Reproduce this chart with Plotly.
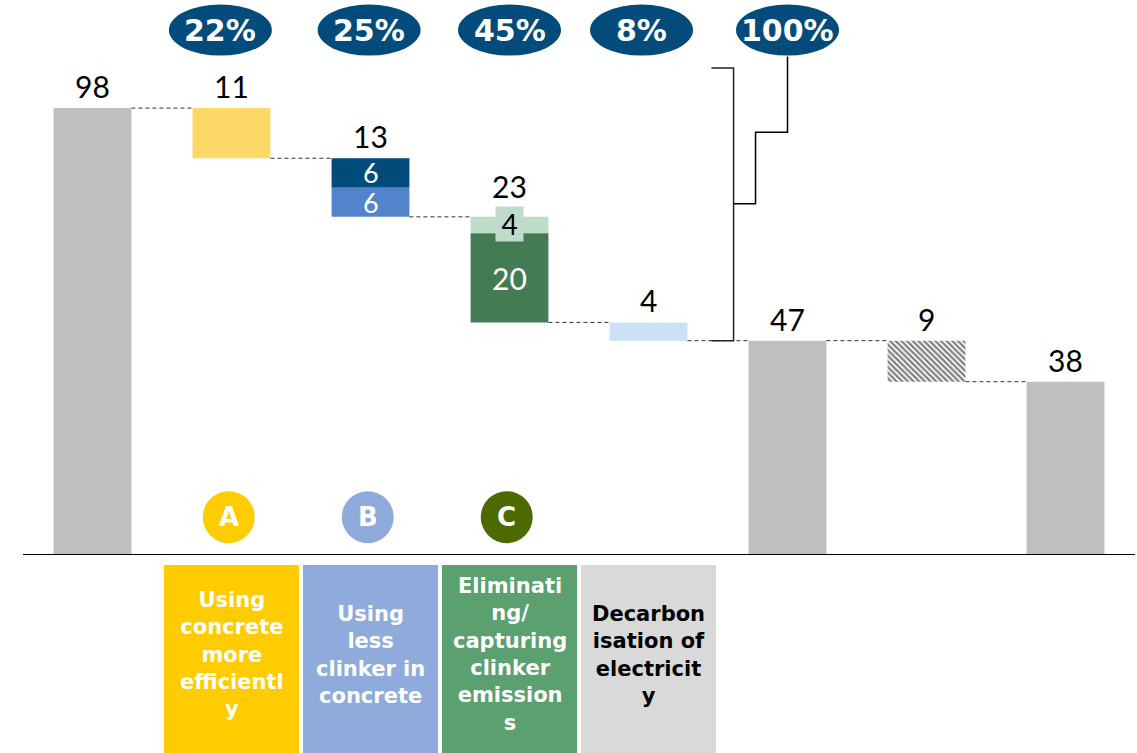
import plotly.graph_objects as go

# ---- data -------------------------------------------------------------
start_total = 98
lever_names = ["A", "B", "C", "D"]
lever_segments = [[11], [6.45, 6.40], [3.6, 19.55], [4]]
further_reduction = 9
lever_titles = [
    "Using<br>concrete<br>more<br>efficientl<br>y",
    "Using<br>less<br>clinker in<br>concrete",
    "Eliminati<br>ng/<br>capturing<br>clinker<br>emission<br>s",
    "Decarbon<br>isation of<br>electricit<br>y",
]
badge_letters = ["A", "B", "C"]

# ---- styles -----------------------------------------------------------
GREY = "#BFBFBF"
NAVY = "#024B7A"
seg_colors = [["#FDD866"], ["#004B7A", "#5383CB"], ["#BEDCC9", "#437C52"], ["#CCE1F5"]]
seg_text_colors = [[None], ["white", "white"], ["black", "white"], [None]]
box_colors = ["#FFCC00", "#8EABDC", "#5BA06F", "#D9D9D9"]
box_text_colors = ["white", "white", "white", "black"]
badge_colors = ["#FFCC00", "#8EABDC", "#4D6A00"]
share_x_offsets = [-0.08, -0.01, 0.0, -0.05, 0.0]

NUM_FONT = "Lato"
BOLD_FONT = "DejaVu Sans"
HALF_W = 0.28          # half bar width in category units
YMAX = 121.7

# ---- derived values ---------------------------------------------------
lever_totals = [sum(s) for s in lever_segments]
total_reduction = sum(lever_totals)
mid_total = start_total - total_reduction
end_total = mid_total - further_reduction
shares = [f"{round(100 * t / total_reduction)}%" for t in lever_totals] + ["100%"]

fig = go.Figure()
annotations = []
shapes = []

# totals (grey)
total_x = [0, 5, 7]
total_y = [start_total, mid_total, end_total]
fig.add_trace(go.Bar(x=total_x, y=total_y, marker_color=GREY, width=2 * HALF_W,
                     marker_line_width=0, hoverinfo="skip"))
for x, v in zip(total_x, total_y):
    annotations.append(dict(x=x, y=v, text=f"{v:.0f}", showarrow=False, yanchor="bottom",
                            yshift=2, font=dict(family=NUM_FONT, size=30, color="black")))

# levers (stacked top-down from the running level)
level = start_total
levels_after = [start_total]
for i, segs in enumerate(lever_segments):
    x = i + 1
    top = level
    for j, seg in enumerate(segs):
        base = top - seg
        fig.add_trace(go.Bar(x=[x], y=[seg], base=[base], marker_color=seg_colors[i][j],
                             width=2 * HALF_W, marker_line_width=0, hoverinfo="skip"))
        tc = seg_text_colors[i][j]
        if tc is not None:
            mid = base + seg / 2
            if tc == "black":
                annotations.append(dict(x=x, y=mid, text=f"{seg:.0f}", showarrow=False,
                                        bgcolor=seg_colors[i][j], width=27, height=34,
                                        borderpad=0, yshift=1,
                                        font=dict(family=NUM_FONT, size=28, color=tc)))
            else:
                annotations.append(dict(x=x, y=mid, text=f"{seg:.0f}", showarrow=False,
                                        font=dict(family=NUM_FONT, size=27 if seg < 10 else 30,
                                                  color=tc)))
        top = base
    annotations.append(dict(x=x, y=level, text=f"{lever_totals[i]:.0f}", showarrow=False,
                            yanchor="bottom", yshift=2 + (9 if len(segs) == 2 and i == 2 else 0),
                            font=dict(family=NUM_FONT, size=30, color="black")))
    level = level - lever_totals[i]
    levels_after.append(level)

# further reduction (hatched)
fig.add_trace(go.Bar(x=[6], y=[further_reduction], base=[end_total], width=2 * HALF_W,
                     marker=dict(color="white", line_width=0,
                                 pattern=dict(shape="\\", fgcolor="black", bgcolor="white",
                                              size=4, solidity=0.55)),
                     hoverinfo="skip"))
annotations.append(dict(x=6, y=mid_total, text=f"{further_reduction}", showarrow=False,
                        yanchor="bottom", yshift=2,
                        font=dict(family=NUM_FONT, size=30, color="black")))

# dashed connectors
conn_levels = levels_after + [mid_total, end_total]
for i, lv in enumerate(conn_levels):
    shapes.append(dict(type="line", xref="x", yref="y", x0=i + HALF_W, x1=i + 1 - HALF_W,
                       y0=lv, y1=lv, line=dict(color="#333333", width=1, dash="4px,3px")))

# baseline
shapes.append(dict(type="line", xref="paper", yref="y", x0=0, x1=1, y0=0, y1=0,
                   line=dict(color="black", width=2)))

# bracket linking the levers to the 100% share
shapes.append(dict(type="path", xref="x", yref="y",
                   path="M 4.453,106.8 L 4.612,106.8 L 4.612,47 L 4.453,47",
                   line=dict(color="#222222", width=1.5)))
shapes.append(dict(type="path", xref="x", yref="y",
                   path="M 4.612,77 L 4.77,77 L 4.77,92.7 L 5.0,92.7 L 5.0,109.3",
                   line=dict(color="black", width=1.5)))

# share ellipses
share_x = [1 + k for k in range(4)] + [5]
for k, (sx, txt) in enumerate(zip(share_x, shares)):
    cx = sx + share_x_offsets[k]
    shapes.append(dict(type="circle", xref="x", yref="y", xsizemode="pixel", ysizemode="pixel",
                       xanchor=cx, yanchor=115.1, x0=-51.5, x1=51.5, y0=-25.5, y1=25.5,
                       fillcolor=NAVY, line_width=0))
    annotations.append(dict(x=cx, y=115.1, text=f"<b>{txt}</b>", showarrow=False,
                            font=dict(family=BOLD_FONT, size=30, color="white")))

# lever badges
for k, letter in enumerate(badge_letters):
    shapes.append(dict(type="circle", xref="x", yref="y", xsizemode="pixel", ysizemode="pixel",
                       xanchor=k + 1 - 0.02, yanchor=8.3, x0=-26, x1=26, y0=-26, y1=26,
                       fillcolor=badge_colors[k], line_width=0))
    annotations.append(dict(x=k + 1 - 0.02, y=8.3, text=f"<b>{letter}</b>", showarrow=False,
                            font=dict(family=BOLD_FONT, size=26, color="white")))

# lever description boxes below the axis
for k, title in enumerate(lever_titles):
    shapes.append(dict(type="rect", xref="x", yref="paper", x0=k + 1 - 0.486, x1=k + 1 + 0.486,
                       y0=-0.018, y1=-0.37, fillcolor=box_colors[k], line_width=0))
    annotations.append(dict(x=k + 1, y=-0.18, xref="x", yref="paper", text=f"<b>{title}</b>",
                            showarrow=False, yanchor="middle",
                            font=dict(family=BOLD_FONT, size=21, color=box_text_colors[k])))

fig.update_layout(
    width=1137, height=753, autosize=False,
    margin=dict(l=23, r=2, t=0, b=198),
    paper_bgcolor="white", plot_bgcolor="white",
    showlegend=False, barmode="overlay",
    xaxis=dict(range=[-0.5, 7.5], visible=False, fixedrange=True),
    yaxis=dict(range=[0, YMAX], visible=False, fixedrange=True),
    shapes=shapes, annotations=annotations,
)

fig.write_html("out.html")
